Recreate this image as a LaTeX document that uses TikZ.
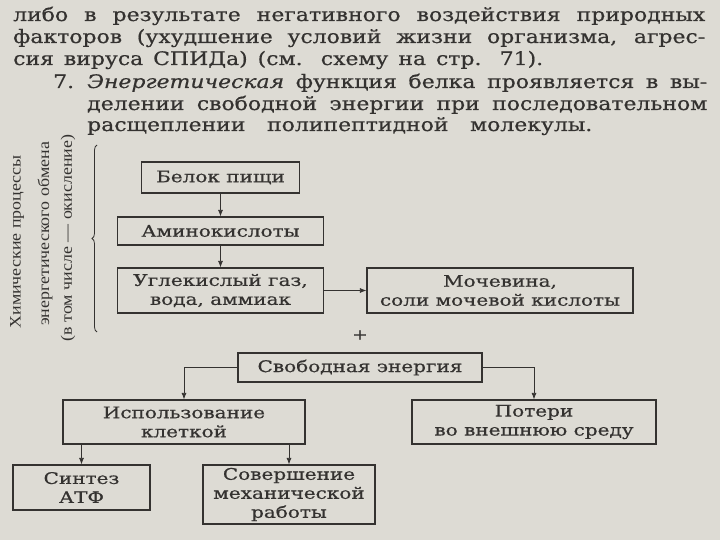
\documentclass[tikz,border=0pt]{standalone}
\usepackage{fontspec}
\setmainfont{DejaVu Serif}[FakeStretch=1.25, FakeBold=0.6]
\newfontfamily\abzacfont{DejaVu Serif}[FakeStretch=1.18, FakeBold=0.6]
\newfontfamily\sidefont{Liberation Serif}[FakeStretch=1.12]
\usetikzlibrary{arrows.meta,calc,positioning,decorations.pathreplacing}
\definecolor{paper}{RGB}{221,219,212}
\definecolor{ink}{RGB}{52,50,48}

\tikzset{
  blok/.style={draw=ink, line width=1.2pt, fill=paper, align=center, inner sep=2pt,
    font=\fontsize{16}{19}\selectfont, text=ink},
  strelka/.style={-{Latex[length=6.5pt,width=5pt]}, draw=ink, line width=0.8pt},
  stroka/.style={anchor=base west, inner sep=0pt, font=\abzacfont\fontsize{18.6}{22}\selectfont, text=ink},
  bokovoj/.style={rotate=90, inner sep=0pt, font=\sidefont\fontsize{16}{19}\selectfont, text=ink},
}

\begin{document}
\begin{tikzpicture}[x=1pt,y=-1pt]
\fill[paper] (0,0) rectangle (720,540);
\useasboundingbox (0,0) rectangle (720,540);
% текст над схемой
\node[stroka] (s1) at (13,21) {\makebox[692pt][s]{либо в результате негативного воздействия природных}};
\node[stroka] (s2) at (13,43) {\makebox[692pt][s]{факторов (ухудшение условий жизни организма, агрес-}};
\node[stroka] (s3) at (13,65) {\makebox[530pt][s]{сия вируса СПИДа) (см. схему на стр. 71).}};
\node[stroka] (s4n) at (53,88) {7.};
\node[stroka] (s4) at (87,88) {\makebox[620pt][s]{\textit{Энергетическая} функция белка проявляется в вы-}};
\node[stroka] (s5) at (87,110) {\makebox[620pt][s]{делении свободной энергии при последовательном}};
\node[stroka] (s6) at (87,131) {\makebox[505pt][s]{расщеплении полипептидной молекулы.}};

% подпись слева и скобка
\node[bokovoj] (h1) at (17,242) {Химические процессы};
\node[bokovoj] (h2) at (45,234) {энергетического обмена};
\node[bokovoj] (h3) at (68,238) {(в том числе — окисление)};
\draw[ink, line width=0.8pt, decorate, decoration={brace, amplitude=5pt}] (97,332) -- (97,145);

% схема
\node[blok, minimum width=158pt, minimum height=31pt] (belok) at (220.5,177.5) {Белок пищи};
\node[blok, minimum width=206pt, minimum height=28pt] (amino) at (220.5,231) {Аминокислоты};
\node[blok, minimum width=206pt, minimum height=45pt] (ugl) at (220.5,290.5) {Углекислый газ,\\ вода, аммиак};
\node[blok, minimum width=266pt, minimum height=45pt] (moch) at (500,290.5) {Мочевина,\\ соли мочевой кислоты};
\node[text=ink, font=\fontsize{15}{18}\selectfont] (plus) at (360,335) {+};
\node[blok, minimum width=244pt, minimum height=29pt] (svob) at (360,367.5) {Свободная энергия};
\node[blok, minimum width=242pt, minimum height=44pt] (ispol) at (184,422) {Использование\\ клеткой};
\node[blok, minimum width=244pt, minimum height=44pt] (poteri) at (534,422) {Потери\\ во внешнюю среду};
\node[blok, minimum width=137pt, minimum height=45pt] (sintez) at (81.5,487.5) {Синтез\\ АТФ};
\node[blok, minimum width=172pt, minimum height=59pt] (sover) at (289,494.5) {Совершение\\ механической\\ работы};

\draw[strelka] (belok) -- (amino);
\draw[strelka] (amino) -- (ugl);
\draw[strelka] (ugl) -- (moch);
\draw[strelka] (svob.west) -| (ispol.north);
\draw[strelka] (svob.east) -| (poteri.north);
\draw[strelka] (ispol.south -| sintez.north) -- (sintez.north);
\draw[strelka] (ispol.south -| sover.north) -- (sover.north);
\end{tikzpicture}
\end{document}
